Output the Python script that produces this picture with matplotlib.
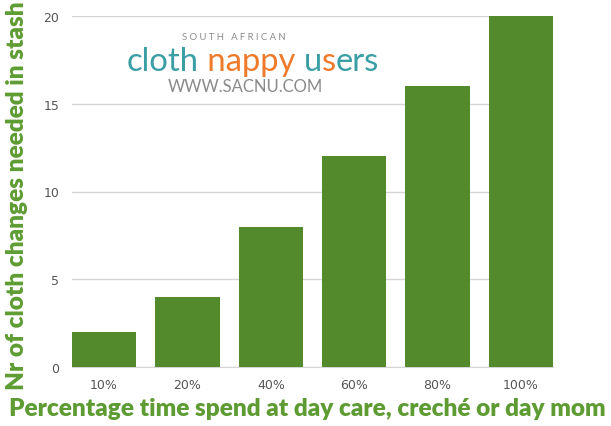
import matplotlib
matplotlib.use("Agg")
import matplotlib.pyplot as plt

categories = ["10%", "20%", "40%", "60%", "80%", "100%"]
values = [2, 4, 8, 12, 16, 20]
yticks = [0, 5, 10, 15, 20]

W, H = 611, 427
fig = plt.figure(figsize=(W / 100, H / 100), dpi=100)
bar_color = "#538A2B"
label_color = "#5E9C33"

ax = fig.add_axes([72 / W, 1 - 368 / H, (553 - 72) / W, (368 - 17) / H])
x = list(range(len(categories)))
ax.bar(x, values, width=0.77, color=bar_color, zorder=3)
ax.set_xlim(-0.385, 5.385)
ax.set_ylim(0, 20)
ax.set_yticks(yticks)
ax.set_yticklabels([str(v) for v in yticks])
ax.set_xticks(x)
ax.set_xticklabels(categories)
ax.grid(axis="y", color="#d5d5d5", linewidth=1, zorder=0)
for s in ["top", "right", "left"]:
    ax.spines[s].set_visible(False)
ax.spines["bottom"].set_color("#d5d5d5")
ax.tick_params(axis="both", length=0, labelsize=9, labelcolor="#555555", colors="#555555")
ax.tick_params(axis="y", pad=9)
ax.tick_params(axis="x", pad=8)
for t in ax.get_xticklabels() + ax.get_yticklabels():
    t.set_family("DejaVu Sans")

fig.text(307 / W, 1 - 409 / H, "Percentage time spend at day care, creché or day mom",
         ha="center", va="center", fontsize=17.6, fontweight="heavy", color=label_color,
         family="Lato")
fig.text(17 / W, 1 - 196 / H, "Nr of cloth changes needed in stash",
         ha="center", va="center", rotation=90, fontsize=17.6, fontweight="heavy",
         color=label_color, family="Lato")

# logo
teal = "#3A9EA5"
orange = "#EE7A2A"
gray = "#8a8a8a"
fig.text(234 / W, 1 - 38 / H, "S O U T H   A F R I C A N", ha="center", va="center", fontsize=6.8,
         color=gray, family="Lato")
fig.text(245 / W, 1 - 87 / H, "WWW.SACNU.COM", ha="center", va="center", fontsize=12,
         color=gray, family="Lato")

pieces = [("cloth", teal), (" nappy ", orange), ("u", teal), ("s", orange), ("ers", teal)]
fig.canvas.draw()
r = fig.canvas.get_renderer()
xpos = 127
ybase = 1 - 71 / H
for txt, col in pieces:
    t = fig.text(xpos / W, ybase, txt, ha="left", va="baseline", fontsize=23.6,
                 color=col, family="Lato")
    bb = t.get_window_extent(renderer=r)
    xpos += bb.width

fig.savefig("out.png", dpi=100)
